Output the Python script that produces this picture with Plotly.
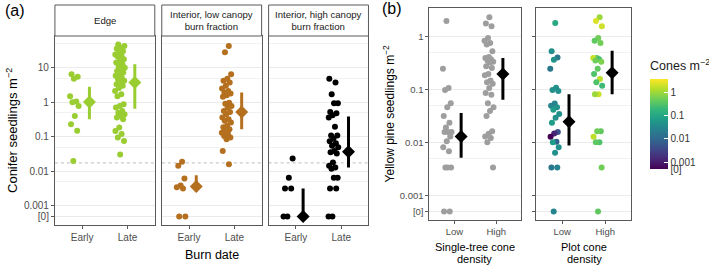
import numpy as np
import plotly.graph_objects as go

# ---------------- data ----------------
ZERO = 0.0005  # plotted position of "[0]"

CATS_A = ["Early", "Late"]
FACETS_A = ["Edge", "Interior, low canopy<br>burn fraction", "Interior, high canopy<br>burn fraction"]
CATS_B = ["Low", "High"]

edge_early = [6.4, 5.5, 4.8, 1.5, 1.05, 1.0, 0.78, 0.4, 0.23, 0.15, 0.02]
edge_late = [47, 42, 38, 35, 30, 27, 24, 22, 21, 17.5, 15.6, 14, 12.5, 11.2, 10, 9, 8, 7.2,
             6.4, 5.8, 5.1, 4.6, 4.2, 3.7, 3.3, 3.0, 2.6, 2.1, 1.7, 1.5, 0.87, 0.78, 0.7,
             0.56, 0.5, 0.45, 0.40, 0.36, 0.32, 0.185, 0.148, 0.12, 0.095, 0.076, 0.031]
lowcan_early = [0.019, 0.0145, 0.0062, 0.0039, 0.0035, 0.0032, ZERO, ZERO]
lowcan_late = [42, 28, 6.4, 4.8, 4.2, 3.7, 3.0, 2.5, 2.1, 1.9, 1.8, 1.6, 1.45, 0.97, 0.9, 0.78,
               0.7, 0.56, 0.52, 0.45, 0.36, 0.32, 0.29, 0.26, 0.21, 0.19, 0.165, 0.148, 0.132,
               0.12, 0.106, 0.095, 0.085, 0.039, 0.016]
highcan_early = [0.0235, 0.0066, 0.0032, 0.0032, ZERO, ZERO]
highcan_late = [4.8, 3.7, 1.7, 0.93, 0.93, 0.52, 0.48, 0.42, 0.36, 0.197, 0.11, 0.11, 0.09,
                0.075, 0.065, 0.055, 0.05, 0.039, 0.036, 0.033, 0.018, 0.0145, 0.013, 0.012,
                0.0066, 0.0066, 0.0032, 0.0032, ZERO, ZERO]

edge_mean, edge_lo, edge_hi = [1.02, 3.7], [0.32, 0.65], [2.83, 12.5]
lowcan_mean, lowcan_lo, lowcan_hi = [0.00365, 0.52], [0.0026, 0.166], [0.0077, 1.9]
highcan_mean, highcan_lo, highcan_hi = [ZERO, 0.037], [ZERO, 0.0129], [0.0032, 0.385]

tree_low = [2.0, 0.25, 0.109, 0.1, 0.056, 0.047, 0.032, 0.024, 0.0195, 0.016, 0.016, 0.016,
            0.0132, 0.0107, 0.0082, 0.0069, 0.0034, 0.0034, 0.0034, ZERO, ZERO]
tree_high = [2.35, 1.8, 1.6, 0.96, 0.85, 0.77, 0.72, 0.54, 0.42, 0.4, 0.38, 0.36, 0.34, 0.33,
             0.28, 0.26, 0.2, 0.19, 0.15, 0.14, 0.13, 0.109, 0.087, 0.081, 0.056, 0.047,
             0.040, 0.032, 0.0165, 0.0148, 0.0132, 0.0123, 0.0102, 0.0034]
tree_mean, tree_lo, tree_hi = [0.0132, 0.2], [0.0052, 0.065], [0.0365, 0.4]

plot_low = [1.84, 0.54, 0.41, 0.37, 0.25, 0.11, 0.10, 0.095, 0.055, 0.05, 0.047, 0.042, 0.035,
            0.0296, 0.024, 0.016, 0.015, 0.013, 0.0105, 0.0102, 0.0082, 0.0065, 0.0034, 0.0034, ZERO]
plot_low_cones = [0.105, 0.043, 0.018, 0.043, 0.018, 0.043, 0.043, 0.043, 0.028, 0.028, 0.043,
                  0.068, 0.043, 0.043, 0.068, 0.0047, 0.0012, ZERO, 0.0072, 0.068, 0.043, 0.043,
                  0.018, 0.028, 0.028]
plot_high = [2.35, 2.0, 1.6, 0.96, 0.85, 0.77, 0.4, 0.4, 0.38, 0.36, 0.34, 0.25, 0.2, 0.16,
             0.14, 0.12, 0.083, 0.083, 0.0165, 0.0165, 0.013, 0.0102, 0.0102, 0.0034, ZERO]
plot_high_cones = [0.97, 2.3, 1.97, 0.52, 0.40, 0.52, 0.40, 1.8, 0.25, 0.52, 0.62, 0.40, 0.30,
                   1.5, 0.30, 0.21, 1.8, 0.97, 0.40, 0.52, 1.5, 0.30, 0.40, 0.52, 0.40]
plot_mean, plot_lo, plot_hi = [0.025, 0.21], [0.0089, 0.083], [0.083, 0.55]

A_YTICKS = [10, 1, 0.1, 0.01, 0.001, ZERO]
A_YTEXT = ["10", "1", "0.1", "0.01", "0.001", "[0]"]
A_MINOR = [50, 5, 0.5, 0.05, 0.005]
B_YTICKS = [1, 0.1, 0.01, 0.001, ZERO]
B_YTEXT = ["1", "0.1", "0.01", "0.001", "[0]"]
B_MINOR = [0.5, 0.05, 0.005]
CB_TICKS = [1, 0.1, 0.01, 0.001, ZERO]
CB_TEXT = ["1", "0.1", "0.01", "0.001", "[0]"]
DASH_LEVEL = 0.0176

# ---------------- styling / layout constants ----------------
W, H = 709, 267
COL_EDGE, COL_LOW, COL_HIGH, COL_GREY = "#9ACD32", "#B5701F", "#000000", "#9E9E9E"
PT_OFF, JIT_W, MEAN_OFF = -0.17, 0.22, 0.16
X_RANGE = [0.4, 2.6]
A_YRANGE = [-3.55, 1.916]
B_YRANGE = [-3.46, 0.548]
FONT = "Liberation Sans, Arial, sans-serif"
TICKCOL = "#4D4D4D"
BORDER = "#595959"
GRID = "#EBEBEB"
MSIZE = 6


def px(p):
    return p / W


def py(p):
    return 1 - p / H


def jitter(n, shift):
    return [((i * 0.6180339887 + shift) % 1.0) - 0.5 for i in range(n)]


fig = go.Figure()


def add_points(groups, xa, ya, color, shift, size=MSIZE):
    for ci, vals in enumerate(groups):
        xs = [ci + 1 + PT_OFF + JIT_W * j for j in jitter(len(vals), shift + 0.13 * ci)]
        fig.add_trace(go.Scatter(x=xs, y=vals, mode="markers", xaxis=xa, yaxis=ya,
                                 marker=dict(color=color, size=size, line=dict(width=0)),
                                 showlegend=False, hoverinfo="y"))


def add_means(mean, lo, hi, xa, ya, color, thick=3):
    xs = [i + 1 + MEAN_OFF for i in range(len(mean))]
    fig.add_trace(go.Scatter(
        x=xs, y=mean, mode="markers", xaxis=xa, yaxis=ya,
        marker=dict(symbol="diamond", size=10, color=color, line=dict(width=0)),
        error_y=dict(type="data", symmetric=False,
                     array=[h - m for h, m in zip(hi, mean)],
                     arrayminus=[m - l for m, l in zip(mean, lo)],
                     width=0, thickness=thick, color=color),
        showlegend=False, hoverinfo="y"))


# panel (a)
a_groups = [(edge_early, edge_late), (lowcan_early, lowcan_late), (highcan_early, highcan_late)]
a_means = [(edge_mean, edge_lo, edge_hi), (lowcan_mean, lowcan_lo, lowcan_hi),
           (highcan_mean, highcan_lo, highcan_hi)]
a_cols = [COL_EDGE, COL_LOW, COL_HIGH]
for k in range(3):
    xa, ya = f"x{k + 1 if k else ''}", f"y{k + 1 if k else ''}"
    fig.add_trace(go.Scatter(x=X_RANGE, y=[DASH_LEVEL, DASH_LEVEL], mode="lines", xaxis=xa,
                             yaxis=ya, line=dict(color="#B3B3B3", width=0.9, dash="3px,3px"),
                             showlegend=False, hoverinfo="skip"))
    add_points(a_groups[k], xa, ya, a_cols[k], 0.21 + 0.37 * k)
    add_means(*a_means[k], xa, ya, a_cols[k], thick=3)

# panel (b)
add_points((tree_low, tree_high), "x4", "y4", COL_GREY, 0.4)
add_means(tree_mean, tree_lo, tree_hi, "x4", "y4", "#000000", thick=3)

cbar = dict(x=px(650), xanchor="left", y=py(113.5), yanchor="middle",
            len=111, lenmode="pixels", thickness=18, thicknessmode="pixels",
            xpad=0, ypad=0, outlinewidth=0,
            tickvals=list(np.log10(CB_TICKS)), ticktext=CB_TEXT,
            ticks="inside", tickcolor="white", ticklen=4,
            tickfont=dict(size=10, color="#333333", family=FONT),
            title=dict(text="Cones m<sup>−2</sup>", side="top",
                       font=dict(size=12.5, color="#1A1A1A", family=FONT)))

for ci, (vals, cones) in enumerate([(plot_low, plot_low_cones), (plot_high, plot_high_cones)]):
    xs = [ci + 1 + PT_OFF + JIT_W * j for j in jitter(len(vals), 0.55 + 0.13 * ci)]
    mk = dict(size=MSIZE, color=list(np.log10(cones)), colorscale="Viridis",
              cmin=float(np.log10(ZERO)), cmax=0.565, line=dict(width=0),
              showscale=(ci == 0), colorbar=cbar)
    fig.add_trace(go.Scatter(x=xs, y=vals, mode="markers", xaxis="x5", yaxis="y5",
                             showlegend=False, hoverinfo="y", marker=mk))
add_means(plot_mean, plot_lo, plot_hi, "x5", "y5", "#000000", thick=3)

# ---------------- axes ----------------
layout = dict(width=W, height=H, autosize=False, margin=dict(l=0, r=0, t=0, b=0),
              paper_bgcolor="white", plot_bgcolor="white", showlegend=False,
              font=dict(family=FONT, color=TICKCOL, size=10))

x_panels = [(55, 155), (162, 262), (269, 369), (430, 522), (537, 632)]
for k, (l, r) in enumerate(x_panels):
    nm = "xaxis" + (str(k + 1) if k else "")
    is_a = k < 3
    tfs = 10 if is_a else 9.5
    layout[nm] = dict(domain=[px(l), px(r)], anchor="y" + (str(k + 1) if k else ""),
                      range=X_RANGE, tickvals=[1, 2], ticktext=CATS_A if is_a else CATS_B,
                      showgrid=False, zeroline=False, showline=True, mirror=True,
                      linecolor=BORDER, linewidth=1, ticks="outside", ticklen=3,
                      tickcolor=BORDER, tickfont=dict(size=tfs, color=TICKCOL))
    ynm = "yaxis" + (str(k + 1) if k else "")
    t, b = (36, 225) if is_a else (8, 220)
    layout[ynm] = dict(domain=[py(b), py(t)], anchor="x" + (str(k + 1) if k else ""),
                       type="log", range=A_YRANGE if is_a else B_YRANGE,
                       tickvals=A_YTICKS if is_a else B_YTICKS,
                       ticktext=A_YTEXT if is_a else B_YTEXT,
                       showticklabels=(k in (0, 3)),
                       ticks="outside" if k in (0, 3, 4) else "", ticklen=3, tickcolor=BORDER,
                       showgrid=True, gridcolor=GRID, gridwidth=1, zeroline=False,
                       showline=True, mirror=True, linecolor=BORDER, linewidth=1,
                       tickfont=dict(size=tfs, color=TICKCOL),
                       minor=dict(tickvals=A_MINOR if is_a else B_MINOR, showgrid=True,
                                  gridcolor="#F2F2F2", gridwidth=0.6))

# strips for panel (a)
shapes, annotations = [], []
for k in range(3):
    xr = "x" + (str(k + 1) if k else "") + " domain"
    shapes.append(dict(type="rect", xref=xr, yref="paper", x0=0, x1=1, y0=py(36), y1=py(5),
                       fillcolor="white", line=dict(color=BORDER, width=1)))
    annotations.append(dict(xref=xr, yref="paper", x=0.5, y=py(20.5), text=FACETS_A[k],
                            showarrow=False, font=dict(size=9.6, color="#1A1A1A"),
                            xanchor="center", yanchor="middle"))

ann_common = dict(showarrow=False, xref="paper", yref="paper", xanchor="center",
                  yanchor="middle")
annotations += [
    dict(x=px(15), y=py(11), text="(a)", font=dict(size=16, color="#000"), **ann_common),
    dict(x=px(393), y=py(9), text="(b)", font=dict(size=16, color="#000"), **ann_common),
    dict(x=px(12), y=py(130), text="Conifer seedlings m<sup>−2</sup>", textangle=-90,
         font=dict(size=13, color="#000"), **ann_common),
    dict(x=px(390), y=py(113), text="Yellow pine seedlings m<sup>−2</sup>", textangle=-90,
         font=dict(size=12, color="#000"), **ann_common),
    dict(x=px(212), y=py(255), text="Burn date", font=dict(size=12.5, color="#000"),
         **ann_common),
    dict(x=px(475.5), y=py(247), text="Single-tree cone", font=dict(size=11, color="#000"),
         **ann_common),
    dict(x=px(475.5), y=py(259), text="density", font=dict(size=11, color="#000"),
         **ann_common),
    dict(x=px(585), y=py(247), text="Plot cone", font=dict(size=11, color="#000"),
         **ann_common),
    dict(x=px(585), y=py(259), text="density", font=dict(size=11, color="#000"),
         **ann_common),
]
layout["shapes"] = shapes
layout["annotations"] = annotations
fig.update_layout(**layout)

fig.write_html("out.html")
